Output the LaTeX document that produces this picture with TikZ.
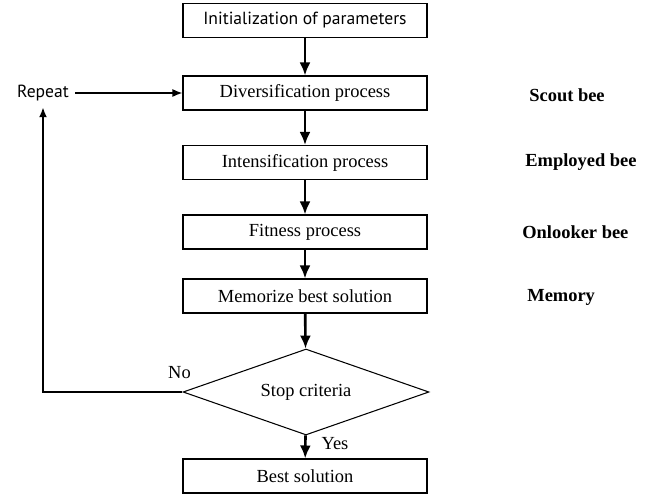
\documentclass[tikz,border=0pt]{standalone}
\usepackage{fontspec}
\setmainfont{Liberation Serif}
\newfontfamily\gillfont{PT Sans}
\usetikzlibrary{shapes.geometric,arrows.meta}

\tikzset{
    box/.style={draw, line width=0.6pt, minimum width=4.88cm, minimum height=0.68cm, inner sep=0pt},
    flow/.style={-{Latex[length=2.6mm,width=2.2mm]}, line width=1.5pt},
    role/.style={font=\fontsize{10.5}{12}\selectfont\bfseries, anchor=west, inner sep=0pt},
}

\begin{document}
\begin{tikzpicture}[x=0.02cm, y=-0.02cm, font=\fontsize{10.5}{12}\selectfont]
    \useasboundingbox (0,0) rectangle (657,498);

    \node [box, font=\gillfont\fontsize{10}{12}\selectfont] (init) at (305,20.5) {Initialization of parameters};
    \node [box] (div) at (305,93) {Diversification process};
    \node [box] (int) at (305,162.5) {Intensification process};
    \node [box] (fit) at (305,232) {Fitness process};
    \node [box] (mem) at (305,296) {Memorize best solution};
    \node [draw, diamond, aspect=2.86, line width=0.6pt, minimum width=4.92cm, minimum height=1.72cm, inner sep=0pt] (stop) at (306,392) {Stop criteria};
    \node [box] (best) at (305,476) {Best solution};

    \node [font=\gillfont\fontsize{10}{12}\selectfont] (repeat) at (43,93) {Repeat};

    \node [role] (scout) at (529,95) {Scout bee};
    \node [role] (employed) at (525,162) {Employed bee};
    \node [role] (onlooker) at (522,232) {Onlooker bee};
    \node [role] (memory) at (527,297) {Memory};

    \draw [flow] (init) -- (div);
    \draw [flow] (div) -- (int);
    \draw [flow] (int) -- (fit);
    \draw [flow] (fit) -- (mem);
    \draw [flow] (mem) -- (stop);
    \draw [flow] (stop) -- (best);

    \draw [-{Latex[length=2mm,width=1.6mm]}, line width=0.9pt] (repeat) -- (div);
    \draw [-{Latex[length=2mm,width=1.6mm]}, line width=1.2pt] (stop.west) -| (repeat.south);

    \node at ([shift={(-3,-19)}]stop.west) {No};
    \node at ([shift={(29,8)}]stop.south) {Yes};
\end{tikzpicture}
\end{document}
